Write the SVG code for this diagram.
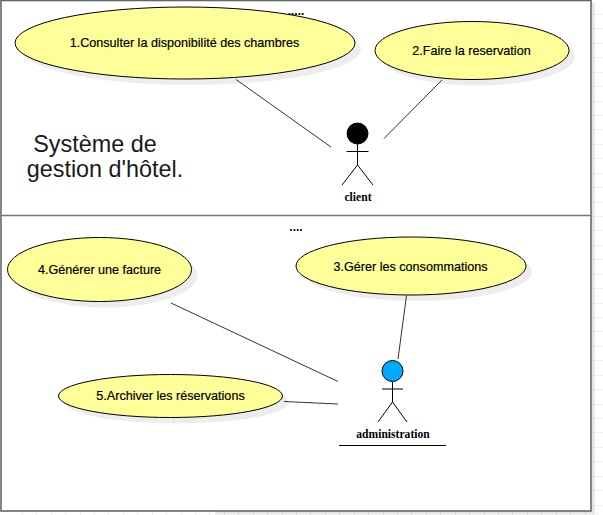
<svg xmlns="http://www.w3.org/2000/svg" width="603" height="515" viewBox="0 0 603 515">
<style>
.uc{fill:#ffff99;stroke:#000;stroke-width:1}
.sh{fill:#000;opacity:.07}
.t{font-family:"Liberation Sans",Arial,sans-serif;font-size:12.600px;fill:#000;stroke:#000;stroke-width:.2px;text-anchor:middle}
.a{font-family:"Liberation Serif","Times New Roman",serif;font-size:11.600px;font-weight:bold;fill:#000;text-anchor:middle}
.c{stroke:#333;stroke-width:1;fill:none}
.s{stroke:#000;stroke-width:1;fill:none}
.g{stroke:#eeeeee;stroke-width:1;fill:none}
.d{font-family:"Liberation Sans",Arial,sans-serif;font-size:12px;font-weight:bold;fill:#000;text-anchor:middle}
.h{font-family:"Liberation Sans",Arial,sans-serif;font-size:23.400px;fill:#1a1a1a;text-anchor:middle}
</style>
<rect width="603" height="515" fill="#fff"/>
<g id="grid">
<path class="g" d="M593 14.500H603M593 28.500H603M593 43.500H603M593 57.500H603M593 72.500H603M593 86.500H603M593 101.500H603M593 115.500H603M593 129.500H603M593 144.500H603M593 158.500H603M593 173.500H603M593 187.500H603M593 202.500H603M593 216.500H603M593 230.500H603M593 245.500H603M593 259.500H603M593 274.500H603M593 288.500H603M593 303.500H603M593 317.500H603M593 331.500H603M593 346.500H603M593 360.500H603M593 375.500H603M593 389.500H603M593 404.500H603M593 418.500H603M593 432.500H603M593 447.500H603M593 461.500H603M593 476.500H603M593 490.500H603M593 505.500H603"/>
<path class="g" d="M22.500 512V515M36.500 512V515M51.500 512V515M65.500 512V515M80.500 512V515M94.500 512V515M108.500 512V515M123.500 512V515M137.500 512V515M152.500 512V515M166.500 512V515M181.500 512V515M195.500 512V515M209.500 512V515M224.500 512V515M238.500 512V515M253.500 512V515M267.500 512V515M282.500 512V515M296.500 512V515M310.500 512V515M325.500 512V515M339.500 512V515M354.500 512V515M368.500 512V515M383.500 512V515M397.500 512V515M411.500 512V515M426.500 512V515M440.500 512V515M455.500 512V515M469.500 512V515M484.500 512V515M498.500 512V515M512.500 512V515M527.500 512V515M541.500 512V515M556.500 512V515M570.500 512V515M585.500 512V515M597.500 512V515"/>
</g>
<g id="boundary">
<path d="M593 3V513H215" fill="none" stroke="#000" stroke-opacity=".1" stroke-width="3"/>
<rect x="1" y="0.500" width="590" height="510.500" fill="#fff" stroke="#666" stroke-width="1.600"/>
<line x1="1" y1="215.500" x2="591" y2="215.500" stroke="#777" stroke-width="1.600"/>
</g>
<g id="connectors">
<line class="c" x1="236" y1="79.500" x2="331" y2="147"/>
<line class="c" x1="442" y1="80" x2="384" y2="138.500"/>
<line class="c" x1="171" y1="303" x2="338" y2="381.500"/>
<line class="c" x1="284" y1="401.500" x2="338" y2="404"/>
<line class="c" x1="406.500" y1="295.500" x2="398" y2="359"/>
</g>
<g id="uc1"><ellipse class="sh" cx="191" cy="49" rx="170" ry="36"/><ellipse class="uc" cx="185" cy="43" rx="170" ry="36"/><text class="t" x="184.500" y="47">1.Consulter la disponibilité des chambres</text></g>
<g id="uc2"><ellipse class="sh" cx="478" cy="56.500" rx="97" ry="29"/><ellipse class="uc" cx="472" cy="50.500" rx="97" ry="29"/><text class="t" x="471.500" y="55">2.Faire la reservation</text></g>
<g id="uc3"><ellipse class="sh" cx="417" cy="272" rx="115" ry="29"/><ellipse class="uc" cx="411" cy="266" rx="115" ry="29"/><text class="t" x="410.500" y="271">3.Gérer les consommations</text></g>
<g id="uc4"><ellipse class="sh" cx="105.500" cy="275.500" rx="92" ry="32"/><ellipse class="uc" cx="99.500" cy="269.500" rx="92" ry="32"/><text class="t" x="99.500" y="274">4.Générer une facture</text></g>
<g id="uc5"><ellipse class="sh" cx="176.500" cy="402" rx="112" ry="21.500"/><ellipse class="uc" cx="170.500" cy="396" rx="112" ry="21.500"/><text class="t" x="170.500" y="400">5.Archiver les réservations</text></g>
<g id="client">
<circle cx="357.500" cy="133.500" r="10.500" fill="#000" stroke="#000"/>
<path class="s" d="M357.500 144V165M346.500 151.500H368.500M357.500 165L342 185M357.500 165L373 185"/>
<text class="a" x="358" y="201">client</text>
</g>
<g id="admin">
<circle cx="392.500" cy="371" r="10.500" fill="#00aaff" stroke="#000"/>
<path class="s" d="M392.500 382V402M382 389H403M392.500 402L378 422M392.500 402L407 422"/>
<text class="a" x="393" y="438">administration</text>
<line x1="339" y1="445.500" x2="446" y2="445.500" stroke="#000"/>
</g>
<g id="labels">
<text class="d" x="296" y="15">.....</text>
<text class="d" x="296" y="231">....</text>
<text class="h" x="95" y="152">Système de</text>
<text class="h" x="105" y="176.500">gestion d'hôtel.</text>
</g>
</svg>
